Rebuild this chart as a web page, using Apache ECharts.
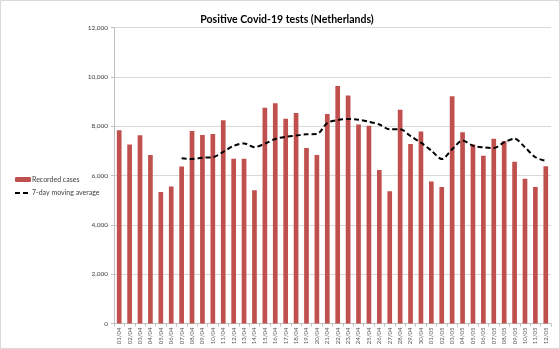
<!DOCTYPE html>
<html><head><meta charset="utf-8">
<script src="https://cdn.jsdelivr.net/npm/echarts@6/dist/echarts.min.js"></script>
<style>html,body{margin:0;padding:0;background:#fff}#c{width:560px;height:349px}</style>
</head><body><div id="c"></div>
<script>
var categories = ["01/04","02/04","03/04","04/04","05/04","06/04","07/04","08/04","09/04","10/04","11/04","12/04","13/04","14/04","15/04","16/04","17/04","18/04","19/04","20/04","21/04","22/04","23/04","24/04","25/04","26/04","27/04","28/04","29/04","30/04","01/05","02/05","03/05","04/05","05/05","06/05","07/05","08/05","09/05","10/05","11/05","12/05"];
var recordedCases = [7830,7260,7630,6830,5330,5550,6360,7800,7640,7680,8240,6680,6680,5400,8750,8930,8300,8530,7110,6830,8490,9630,9240,8070,8020,6220,5360,8670,7280,7780,5760,5530,9210,7750,7260,6800,7490,7400,6560,5870,5530,6370];
var movingAverage = [null,null,null,null,null,null,6700,6670,6720,6740,6960,7200,7300,7150,7290,7480,7570,7620,7670,7680,8130,8250,8290,8260,8180,8070,7870,7880,7600,7330,7010,6670,7060,7420,7210,7140,7110,7340,7490,7140,6740,6590];
var yTicks = {min:0, max:12000, interval:2000};

var chart = echarts.init(document.getElementById('c'));
var font = 'Lato, "Open Sans", sans-serif';
chart.setOption({
  animation:false,
  backgroundColor:'#fff',
  textStyle:{fontFamily:font},
  graphic:[{type:'rect',shape:{x:0.5,y:0.5,width:559,height:348},style:{fill:'none',stroke:'#d9d9d9',lineWidth:1},silent:true}],
  title:{text:'Positive Covid-19 tests (Netherlands)',left:282,textAlign:'center',top:9,
    textStyle:{fontFamily:font,fontSize:10.5,fontWeight:'bold',color:'#000'}},
  legend:{orient:'vertical',left:9,top:171,itemWidth:16,itemHeight:5,itemGap:6.5,
    textStyle:{fontFamily:font,fontSize:7,color:'#404040',padding:[0,0,0,-4]},
    data:[{name:'Recorded cases'},{name:'7-day moving average',itemStyle:{opacity:0}}]},
  grid:{left:114,right:9,top:27.5,bottom:25.5,containLabel:false},
  xAxis:{type:'category',data:categories,
    axisLine:{lineStyle:{color:'#bfbfbf',width:1}},
    axisTick:{show:true,length:3,lineStyle:{color:'#bfbfbf'}},
    axisLabel:{rotate:90,fontSize:6,color:'#595959',margin:4,interval:0,fontFamily:font}},
  yAxis:{type:'value',min:yTicks.min,max:yTicks.max,interval:yTicks.interval,
    axisLine:{show:true,lineStyle:{color:'#bfbfbf'}},
    axisTick:{show:true,length:3,lineStyle:{color:'#bfbfbf'}},
    splitLine:{lineStyle:{color:'#d9d9d9',width:1}},
    axisLabel:{fontSize:6.5,color:'#404040',margin:6,fontFamily:font,
      formatter:function(v){return v.toLocaleString('en-US');}}},
  series:[
    {name:'Recorded cases',type:'bar',data:recordedCases,barWidth:'45%',
      itemStyle:{color:'#c0504d'}},
    {name:'7-day moving average',type:'line',data:movingAverage,smooth:0.3,symbol:'none',
      lineStyle:{color:'#000',width:2,type:[5,3]},itemStyle:{color:'#000'}}
  ]
});
</script></body></html>
